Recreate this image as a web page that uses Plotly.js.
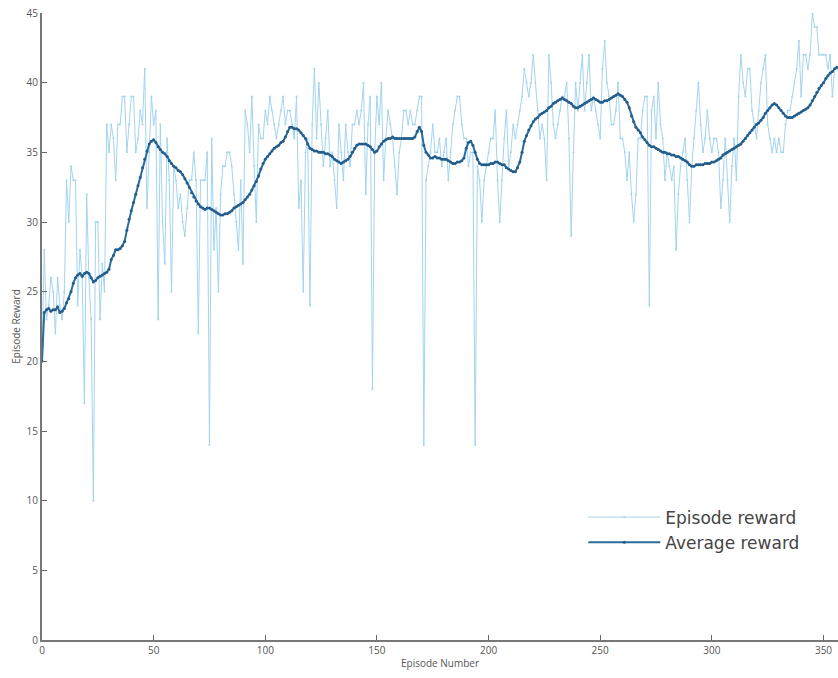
<!DOCTYPE html>
<html>
<head>
<meta charset="utf-8">
<script src="https://cdn.plot.ly/plotly-3.0.1.min.js"></script>
<style>html,body{margin:0;padding:0;background:#fff;}#chart{width:838px;height:678px;}</style>
</head>
<body>
<div id="chart"></div>
<script>
// Episode rewards (episodes 0..356)
const episodeReward = [
20,28,23,24,26,25,22,26,24,23,
25,33,30,34,33,33,24,28,26,17,
32,26,23,10,30,30,23,27,25,37,
35,37,36,33,37,37,39,39,35,37,
39,39,35,36,38,37,41,31,35,39,
37,38,23,37,30,27,36,33,25,34,
33,31,32,30,29,31,33,33,35,33,
22,33,33,33,35,14,36,28,31,25,
32,34,34,35,35,34,32,30,28,33,
27,38,37,35,39,34,30,37,36,36,
38,37,39,38,37,36,37,38,39,37,
38,38,37,36,39,31,33,25,35,36,
24,37,41,36,40,37,34,36,38,34,
35,33,31,37,35,33,37,35,34,37,
37,38,37,38,40,32,37,39,18,35,
39,37,40,33,36,38,37,36,34,32,
35,36,38,38,37,38,37,37,38,39,
39,14,33,34,35,37,35,35,36,34,
35,36,33,35,37,38,39,39,37,36,
36,34,35,35,14,34,33,30,33,34,
35,36,36,38,33,30,33,36,38,34,
35,37,36,37,38,39,41,40,39,40,
42,40,38,36,37,36,33,42,40,37,
36,37,38,39,39,40,36,29,35,40,
38,40,42,38,40,42,38,39,38,37,
36,41,43,40,39,37,37,38,40,36,
36,35,33,35,32,30,32,36,36,38,
39,39,24,38,39,36,40,37,36,33,
35,34,33,34,28,32,34,35,36,33,
30,34,36,38,40,37,35,36,38,36,
35,36,36,35,31,33,36,33,30,34,
36,33,39,42,40,39,41,41,38,37,
36,38,40,41,42,37,36,35,36,35,
36,35,35,37,38,38,39,40,41,43,
39,42,42,41,42,45,44,44,42,42,
42,42,41,42,39,41,41
];
// Average reward (episodes 0..356)
const averageReward = [
20.0,23.5,23.7,23.8,23.6,23.7,23.7,23.9,23.5,23.6,
23.8,24.2,24.5,25.0,25.6,26.0,26.2,26.3,26.1,26.3,
26.4,26.3,26.0,25.7,25.8,26.0,26.1,26.2,26.3,26.4,
26.6,27.3,27.6,28.0,28.0,28.1,28.3,28.6,29.4,30.2,
30.8,31.4,32.0,32.6,33.2,33.9,34.5,35.1,35.6,35.8,
35.9,35.7,35.4,35.2,35.0,34.9,34.7,34.4,34.2,34.0,
33.9,33.7,33.6,33.4,33.1,32.8,32.5,32.1,31.8,31.5,
31.3,31.1,31.0,30.9,31.0,31.0,30.9,30.8,30.7,30.6,
30.5,30.5,30.6,30.6,30.7,30.8,31.0,31.1,31.2,31.3,
31.4,31.6,31.8,32.0,32.3,32.6,32.9,33.3,33.8,34.2,
34.5,34.7,34.9,35.1,35.3,35.4,35.5,35.7,35.8,36.1,
36.5,36.8,36.8,36.7,36.7,36.6,36.4,36.2,36.0,35.6,
35.3,35.2,35.1,35.1,35.0,35.0,35.0,34.9,34.9,34.8,
34.7,34.5,34.4,34.3,34.2,34.3,34.4,34.5,34.7,35.0,
35.3,35.5,35.6,35.6,35.6,35.6,35.5,35.4,35.2,35.0,
35.1,35.4,35.6,35.8,35.9,36.0,36.0,36.1,36.0,36.0,
36.0,36.0,36.0,36.0,36.0,36.0,36.0,36.1,36.5,36.8,
36.5,35.5,35.0,34.8,34.6,34.6,34.7,34.6,34.6,34.5,
34.5,34.5,34.4,34.3,34.2,34.2,34.3,34.3,34.4,34.6,
35.3,35.7,35.8,35.5,35.0,34.5,34.2,34.1,34.1,34.1,
34.1,34.2,34.2,34.3,34.3,34.2,34.1,34.1,33.9,33.8,
33.7,33.6,33.6,33.9,34.3,35.0,35.8,36.2,36.6,36.9,
37.2,37.4,37.5,37.7,37.8,37.9,38.0,38.2,38.3,38.5,
38.6,38.7,38.8,38.9,38.8,38.7,38.6,38.5,38.3,38.2,
38.2,38.3,38.4,38.5,38.6,38.7,38.8,38.9,38.8,38.7,
38.6,38.6,38.7,38.7,38.8,38.9,39.0,39.1,39.2,39.1,
39.0,38.8,38.6,38.2,37.6,37.2,36.8,36.6,36.4,36.1,
35.9,35.7,35.5,35.4,35.4,35.3,35.2,35.1,35.0,35.0,
34.9,34.9,34.8,34.8,34.7,34.7,34.6,34.5,34.4,34.3,
34.1,34.0,34.0,34.1,34.1,34.1,34.1,34.2,34.2,34.2,
34.3,34.3,34.4,34.5,34.6,34.8,34.9,35.0,35.1,35.2,
35.3,35.4,35.5,35.6,35.8,36.0,36.2,36.4,36.6,36.8,
37.0,37.1,37.3,37.5,37.8,38.0,38.2,38.4,38.5,38.4,
38.2,38.0,37.8,37.6,37.5,37.5,37.5,37.6,37.7,37.8,
37.9,38.0,38.1,38.2,38.4,38.7,39.0,39.3,39.6,39.8,
40.0,40.3,40.5,40.7,40.8,41.0,41.1
];
const seriesNames = ['Episode reward', 'Average reward'];
const xTicks = [0, 50, 100, 150, 200, 250, 300, 350];
const yTicks = [0, 5, 10, 15, 20, 25, 30, 35, 40, 45];

const episodes = episodeReward.map((_, i) => i);

const traces = [
  {
    x: episodes, y: episodeReward, name: seriesNames[0],
    type: 'scatter', mode: 'lines+markers',
    line: {color: '#a3d4f0', width: 1},
    marker: {color: '#a3d4f0', size: 2}
  },
  {
    x: episodes, y: averageReward, name: seriesNames[1],
    type: 'scatter', mode: 'lines+markers',
    line: {color: '#2a6b9e', width: 2},
    marker: {color: '#245d8a', size: 3}
  }
];

const axisFont = {family: 'Open Sans, DejaVu Sans, sans-serif', size: 10, color: '#555'};

const layout = {
  width: 838, height: 678,
  margin: {l: 42, r: 0, t: 13, b: 38, pad: 0},
  paper_bgcolor: '#fff', plot_bgcolor: '#fff',
  showlegend: true,
  legend: {
    x: 0.680, y: 0.224, xanchor: 'left', yanchor: 'top',
    bgcolor: 'rgba(0,0,0,0)', borderwidth: 0,
    font: {family: 'DejaVu Sans, sans-serif', size: 17, color: '#444'},
    itemwidth: 72, tracegroupgap: 0
  },
  xaxis: {
    range: [0, 356.5], tickmode: 'array', tickvals: xTicks,
    ticks: 'inside', ticklen: 5, tickcolor: '#666', tickwidth: 1,
    showline: true, linecolor: '#777', linewidth: 2,
    showgrid: false, zeroline: false,
    tickfont: axisFont,
    title: {text: 'Episode Number', font: axisFont, standoff: 4}
  },
  yaxis: {
    range: [0, 45], tickmode: 'array', tickvals: yTicks,
    ticks: 'inside', ticklen: 5, tickcolor: '#666', tickwidth: 1,
    showline: true, linecolor: '#777', linewidth: 2,
    showgrid: false, zeroline: false,
    tickfont: axisFont,
    title: {text: 'Episode Reward', font: axisFont, standoff: 4}
  }
};

Plotly.newPlot('chart', traces, layout, {displayModeBar: false, staticPlot: true});
</script>
</body>
</html>
